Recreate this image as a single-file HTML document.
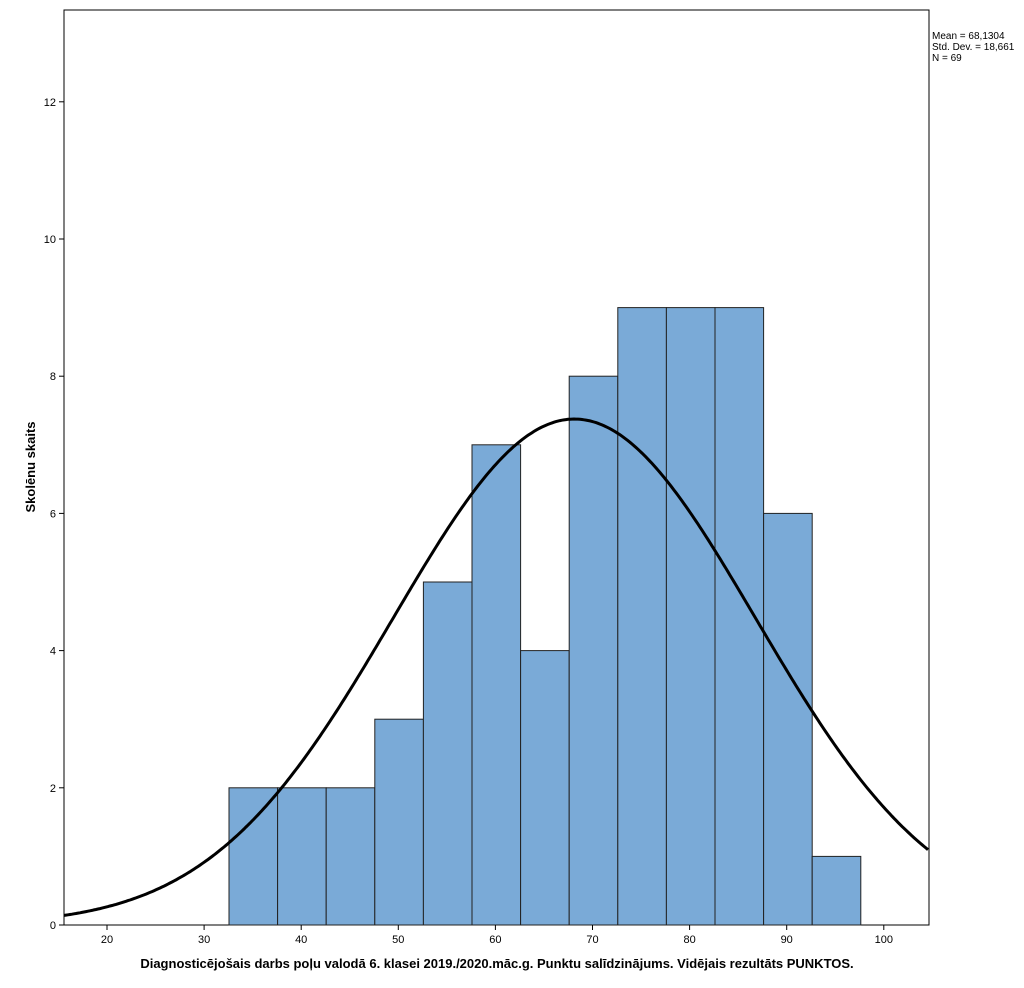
<!DOCTYPE html>
<html><head><meta charset="utf-8"><style>
body{margin:0;background:#fff;}
svg{display:block;font-family:"Liberation Sans",sans-serif;}
</style></head><body>
<svg id="s" width="1024" height="988" viewBox="0 0 1024 988">
<rect x="64" y="10" width="865" height="915" fill="#fff" stroke="#000" stroke-width="1"/>
<g id="bars" fill="#7aaad7" stroke="#222" stroke-width="1"></g>
<path id="curve" fill="none" stroke="#000" stroke-width="3"/>
<g id="ticks" stroke="#000" stroke-width="1"></g>
<g id="labels" font-size="11" fill="#000"></g>
<text x="932" y="39" font-size="10">Mean = 68,1304</text>
<text x="932" y="50" font-size="10">Std. Dev. = 18,661</text>
<text x="932" y="61" font-size="10">N = 69</text>
<text x="497" y="968" font-size="13" font-weight="bold" text-anchor="middle">Diagnosticējošais darbs poļu valodā 6. klasei 2019./2020.māc.g. Punktu salīdzinājums. Vidējais rezultāts PUNKTOS.</text>
<text transform="translate(35,467) rotate(-90)" font-size="13" font-weight="bold" text-anchor="middle">Skolēnu skaits</text>
</svg>
<script>
var NS="http://www.w3.org/2000/svg";
function X(v){return 107+(v-20)*9.71;}
function Y(c){return 925-c*68.6;}
function el(t,a,p){var e=document.createElementNS(NS,t);for(var k in a)e.setAttribute(k,a[k]);document.getElementById(p).appendChild(e);return e;}
var counts=[2,2,2,3,5,7,4,8,9,9,9,6,1];
for(var i=0;i<counts.length;i++){
el("rect",{x:229+48.6*i,y:Y(counts[i]),width:48.6,height:counts[i]*68.6},"bars");}
var d="";for(var px=64;px<=929;px+=2){var v=20+(px-107)/9.71;
var c=345/(18.661*Math.sqrt(2*Math.PI))*Math.exp(-0.5*Math.pow((v-68.1304)/18.661,2));
d+=(px==64?"M":"L")+px+","+Y(c).toFixed(1);}
document.getElementById("curve").setAttribute("d",d);
for(var k=0;k<=12;k+=2){var y=Y(k);el("line",{x1:59,y1:y,x2:64,y2:y},"ticks");
var t=el("text",{x:56,y:y+4,"text-anchor":"end"},"labels");t.textContent=k;}
for(var v=20;v<=100;v+=10){var x=X(v);el("line",{x1:x,y1:925,x2:x,y2:930},"ticks");
var t=el("text",{x:x,y:943,"text-anchor":"middle"},"labels");t.textContent=v;}
</script>
</body></html>
